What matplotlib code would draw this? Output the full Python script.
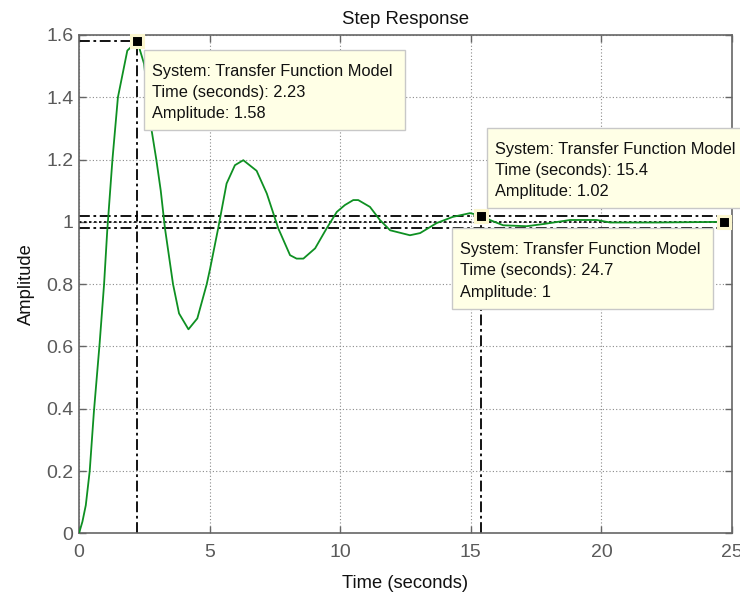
import matplotlib
matplotlib.use("Agg")
import matplotlib.pyplot as plt
from matplotlib.patches import Rectangle

plt.rcParams['font.family'] = ['Liberation Sans', 'DejaVu Sans']

# ---- data ----
time_s = [0, 0.13, 0.26, 0.41, 0.57, 0.79, 0.96, 1.08, 1.28, 1.49, 1.85, 2.23,
          2.49, 2.78, 2.96, 3.13, 3.29, 3.6, 3.83, 4.19, 4.53, 4.89, 5.02, 5.33, 5.65,
          5.97, 6.29, 6.80, 7.19, 7.63, 8.08, 8.33, 8.59, 9.04, 9.48, 9.87, 10.18, 10.5,
          10.69, 11.14, 11.52, 11.91, 12.67, 13.06, 13.69, 14.31, 14.97, 15.4, 15.73,
          16.24, 17.14, 17.78, 18.8, 19.82, 20.33, 22.1, 24.7, 25.0]
amplitude = [0, 0.037, 0.09, 0.2, 0.39, 0.61, 0.8, 0.97, 1.2, 1.4, 1.55, 1.58,
             1.508, 1.294, 1.2, 1.10, 0.98, 0.8, 0.706, 0.655, 0.69, 0.8, 0.85, 0.98,
             1.123, 1.182, 1.198, 1.164, 1.091, 0.979, 0.893, 0.882, 0.882, 0.915, 0.979,
             1.032, 1.054, 1.07, 1.07, 1.048, 1.006, 0.973, 0.957, 0.964, 0.996, 1.016,
             1.028, 1.02, 1.006, 0.989, 0.986, 0.993, 1.006, 1.006, 0.998, 0.998, 1.0, 1.0]

peak_time, peak_amp = 2.23, 1.58
settle_time, settle_amp = 15.4, 1.02
final_time, final_amp = 24.7, 1.0
settle_band = [1.02, 0.98]

x_ticks = [0, 5, 10, 15, 20, 25]
y_ticks = [0, 0.2, 0.4, 0.6, 0.8, 1.0, 1.2, 1.4, 1.6]
y_tick_labels = ['0', '0.2', '0.4', '0.6', '0.8', '1', '1.2', '1.4', '1.6']

tips = [
    ("System: Transfer Function Model", "Time (seconds): 2.23", "Amplitude: 1.58"),
    ("System: Transfer Function Model", "Time (seconds): 15.4", "Amplitude: 1.02"),
    ("System: Transfer Function Model", "Time (seconds): 24.7", "Amplitude: 1"),
]
# box placement in axes fraction: (x0, top, width, height)
tip_boxes = [(0.0995, 0.970, 0.3997, 0.1605),
             (0.6243, 0.8134, 0.3956, 0.1605),
             (0.5707, 0.6127, 0.3997, 0.1625)]

fig = plt.figure(figsize=(7.4, 5.96), dpi=100)
ax = fig.add_axes([79/740, 1 - 533.3/596, 653/740, 498.3/596])

dashdot = (0, (6, 2, 1.5, 2))
grey = '#666666'

ax.set_xlim(0, 25)
ax.set_ylim(0, 1.6)
ax.set_xticks(x_ticks)
ax.set_yticks(y_ticks)
ax.set_yticklabels(y_tick_labels)
ax.grid(True, color='#8a8a8a', linestyle=(0, (1, 2)), linewidth=0.8)
ax.set_axisbelow(True)

# characteristic lines
for lvl in settle_band:
    ax.axhline(lvl, color='black', linestyle=dashdot, linewidth=1.3, zorder=2)
ax.axhline(final_amp, color='black', linestyle=(0, (1.5, 1.5)), linewidth=1.2, zorder=2)
ax.plot([0, peak_time], [peak_amp, peak_amp], color='black', linestyle=dashdot, lw=1.3, zorder=2)
ax.plot([peak_time, peak_time], [0, peak_amp], color='black', linestyle=dashdot, lw=1.3, zorder=2)
ax.plot([settle_time, settle_time], [0, settle_amp], color='black', linestyle=dashdot, lw=1.3, zorder=2)

ax.plot(time_s, amplitude, color='#0e9022', linewidth=1.3, zorder=3)

for (mx, my) in [(peak_time, peak_amp), (settle_time, settle_amp), (final_time, final_amp)]:
    ax.plot([mx], [my], marker='s', markersize=9, markerfacecolor='black',
            markeredgecolor='#fbf6cf', markeredgewidth=2.2, zorder=6, clip_on=False)

# data tips
for (lines, (x0, top, w, h)) in zip(tips, tip_boxes):
    rect = Rectangle((x0, top - h), w, h, transform=ax.transAxes, facecolor='#ffffe6',
                     edgecolor='#c8c8c8', linewidth=1.0, zorder=7, clip_on=False)
    ax.add_patch(rect)
    offsets = [0.0522, 0.0949, 0.1375]
    for s, off in zip(lines, offsets):
        ax.text(x0 + 0.0123, top - off, s, transform=ax.transAxes, fontsize=11.8,
                color='#111111', va='baseline', ha='left', zorder=8, clip_on=False)

for sp in ax.spines.values():
    sp.set_color(grey)
    sp.set_linewidth(1.2)
ax.tick_params(direction='in', length=5, width=1, colors=grey, labelsize=14,
               top=True, right=True, labelcolor='#5a5a5a')
ax.tick_params(axis='x', pad=8)
ax.tick_params(axis='y', pad=4)

ax.set_title('Step Response', fontsize=13.4, color='#111111', pad=8)
ax.set_xlabel('Time (seconds)', fontsize=13.2, color='#111111', labelpad=10)
ax.set_ylabel('Amplitude', fontsize=13.2, color='#111111', labelpad=8)

fig.savefig('out.png', dpi=100)
